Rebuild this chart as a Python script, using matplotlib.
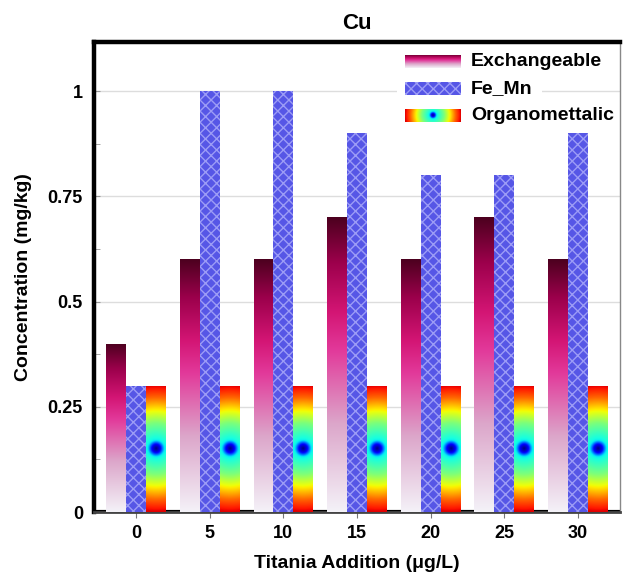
import numpy as np
import matplotlib

matplotlib.use("Agg")
import matplotlib.pyplot as plt
from matplotlib.colors import LinearSegmentedColormap
from matplotlib.patches import Rectangle

plt.rcParams["font.family"] = ["Liberation Sans", "DejaVu Sans"]
plt.rcParams["font.weight"] = "bold"
plt.rcParams["hatch.linewidth"] = 1.0

additions = ["0", "5", "10", "15", "20", "25", "30"]
exchangeable = [0.4, 0.6, 0.6, 0.7, 0.6, 0.7, 0.6]
fe_mn = [0.3, 1.0, 1.0, 0.9, 0.8, 0.8, 0.9]
organometallic = [0.3, 0.3, 0.3, 0.3, 0.3, 0.3, 0.3]
series_labels = ["Exchangeable", "Fe_Mn", "Organomettalic"]
y_ticks = [0, 0.25, 0.5, 0.75, 1]
y_tick_labels = ["0", "0.25", "0.5", "0.75", "1"]

exch_cmap = LinearSegmentedColormap.from_list(
    "exch",
    [(0.0, "#f4f2f8"), (0.3, "#dca6ca"), (0.55, "#e2399a"),
     (0.68, "#d31574"), (0.85, "#9b004b"), (1.0, "#4c001f")],
)
jet = plt.get_cmap("jet")
FEMN_FACE = "#5656e6"
FEMN_HATCH = "#9c9cf6"


def ring_image(w_px, h_px, radius):
    """Radial jet rings, dark core in the middle, red at the rim."""
    nx, ny = max(int(w_px * 2), 4), max(int(h_px * 2), 4)
    xs = (np.arange(nx) + 0.5) / 2 - w_px / 2
    ys = (np.arange(ny) + 0.5) / 2 - h_px / 2
    dx, dy = np.meshgrid(xs, ys)
    r = np.sqrt(dx ** 2 + dy ** 2) / radius
    t = np.interp(r, [0, 0.06, 0.13, 0.4, 0.6, 0.8, 1.0],
                  [0, 0.1, 0.36, 0.5, 0.65, 0.8, 0.92])
    return jet(t)


fig = plt.figure(figsize=(6.23, 5.74), dpi=100)
ax = fig.add_axes([0.151, 0.108, 0.844, 0.819])
xlim = (-0.57, 6.57)
ylim = (0, 1.117)
ax.set_xlim(*xlim)
ax.set_ylim(*ylim)

x = np.arange(len(additions))
width = 0.27

# exchangeable: vertical gradient, dark top fading to near white
bars_ex = ax.bar(x - width, exchangeable, width, color="none", linewidth=0, zorder=3)
grad = np.linspace(0, 1, 256).reshape(-1, 1)
for b in bars_ex:
    x0, w, h = b.get_x(), b.get_width(), b.get_height()
    im = ax.imshow(grad, cmap=exch_cmap, origin="lower", aspect="auto",
                   extent=(x0, x0 + w, 0, h), zorder=3, interpolation="bilinear")
    im.set_clip_path(b)

# Fe_Mn: hatched blue
ax.bar(x, fe_mn, width, color=FEMN_FACE, edgecolor=FEMN_HATCH, hatch="xxx",
       linewidth=0, zorder=3)

# organometallic: radial rings centred on each bar
bars_org = ax.bar(x + width, organometallic, width, color="none", linewidth=0, zorder=3)
ax.set_xlim(*xlim)
ax.set_ylim(*ylim)
for b in bars_org:
    x0, w, h = b.get_x(), b.get_width(), b.get_height()
    p0 = ax.transData.transform((x0, 0))
    p1 = ax.transData.transform((x0 + w, h))
    w_px, h_px = abs(p1[0] - p0[0]), abs(p1[1] - p0[1])
    im = ax.imshow(ring_image(w_px, h_px, h_px / 2), origin="lower", aspect="auto",
                   extent=(x0, x0 + w, 0, h), zorder=3, interpolation="bilinear")
    im.set_clip_path(b)

ax.set_xlim(*xlim)
ax.set_ylim(*ylim)
ax.axhline(0, color="black", lw=3, zorder=2)

ax.set_xticks(x)
ax.set_xticklabels(additions)
ax.set_yticks(y_ticks)
ax.set_yticklabels(y_tick_labels)
ax.set_yticks(np.arange(0.125, 1.1, 0.25), minor=True)
ax.tick_params(axis="x", direction="out", length=4, color="#777777",
               labelsize=13, pad=5)
ax.tick_params(axis="y", which="both", direction="in", length=4, color="#999999",
               labelsize=13, pad=8)
ax.grid(axis="y", color="#dddddd", lw=1, zorder=0)
ax.set_axisbelow(True)

for side, lw, col in [("left", 3.2, "black"), ("top", 3.2, "black"),
                      ("bottom", 2.0, "#444444"), ("right", 1.0, "#888888")]:
    ax.spines[side].set_linewidth(lw)
    ax.spines[side].set_color(col)

ax.set_title("Cu", fontsize=16, fontweight="bold", pad=9)
ax.set_xlabel("Titania Addition (\u03bcg/L)", fontsize=14, fontweight="bold", labelpad=10)
ax.set_ylabel("Concentration (mg/kg)", fontsize=14, fontweight="bold", labelpad=11)

# legend built by hand so the swatches carry the same fills as the bars
ax.add_patch(Rectangle(((397 - 94) / 526, (512 - 126) / 470), 145 / 526, 76 / 470,
                       transform=ax.transAxes, facecolor="white", edgecolor="none",
                       zorder=4))
sw_x, sw_w = 405 / 623, 56 / 623
sw_rows = [(574 - 68) / 574, (574 - 95) / 574, (574 - 122) / 574]
sw_h = 13.5 / 574
for i, (label, y0) in enumerate(zip(series_labels, sw_rows)):
    sax = fig.add_axes([sw_x, y0, sw_w, sw_h])
    sax.set_zorder(5)
    sax.set_axis_off()
    if i == 0:
        sax.imshow(grad, cmap=exch_cmap, origin="lower", aspect="auto",
                   extent=(0, 1, 0, 1), interpolation="bilinear")
    elif i == 1:
        sax.add_patch(Rectangle((0, 0), 1, 1, facecolor=FEMN_FACE, edgecolor=FEMN_HATCH,
                                hatch="xxx", linewidth=0))
    else:
        sax.imshow(ring_image(56, 14, 28), origin="lower", aspect="auto",
                   extent=(0, 1, 0, 1), interpolation="bilinear")
    sax.set_xlim(0, 1)
    sax.set_ylim(0, 1)
    fig.text(471 / 623, y0 + sw_h / 2, label, fontsize=14, fontweight="bold",
             va="center", ha="left", zorder=6)

fig.savefig("out.png", dpi=100)
plt.close(fig)
